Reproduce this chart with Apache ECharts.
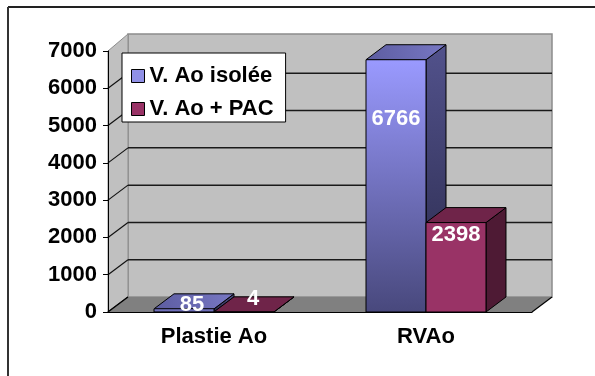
<!DOCTYPE html>
<html>
<head>
<meta charset="utf-8">
<script src="https://cdn.jsdelivr.net/npm/echarts@6/dist/echarts.min.js"></script>
<style>
  html, body { margin: 0; padding: 0; background: #fff; }
  #chart { width: 595px; height: 376px; }
</style>
</head>
<body>
<div id="chart"></div>
<script>
// Chart data
const categories = ['Plastie Ao', 'RVAo'];
const seriesNames = ['V. Ao isolée', 'V. Ao + PAC'];
const isoleeValues = [85, 6766];
const pacValues = [4, 2398];
const yTicks = [0, 1000, 2000, 3000, 4000, 5000, 6000, 7000];
const yMin = 0, yMax = 7000, yStep = 1000;

// Pseudo-3D depth offset and bar geometry
const DX = 20, DY = -15;
const BAR_RATIO = 0.283;
const FONT = '"Liberation Sans", Arial, sans-serif';

// Label anchors relative to the top-centre of each bar's front face
const labelShift = [
  [[8, -4], [0, 59]],
  [[9, -13], [0, 12]]
];

const palettes = [
  {
    front: { type: 'linear', x: 0, y: 0, x2: 0, y2: 1, colorStops: [{ offset: 0, color: '#9a9aff' }, { offset: 1, color: '#48487c' }] },
    side: { type: 'linear', x: 0, y: 0, x2: 0, y2: 1, colorStops: [{ offset: 0, color: '#52528c' }, { offset: 1, color: '#29294a' }] },
    top: { type: 'linear', x: 0, y: 1, x2: 1, y2: 0, colorStops: [{ offset: 0, color: '#5c5ca0' }, { offset: 1, color: '#7878c4' }] },
    legend: '#9090e6'
  },
  {
    front: '#993366',
    side: '#4e1a34',
    top: '#6f2449',
    legend: '#993366'
  }
];

function renderFrame(params, api) {
  const cs = params.coordSys;
  const xL = cs.x, xR = cs.x + cs.width;
  const y0 = api.coord([0, yMin])[1];
  const yT = api.coord([0, yMax])[1];
  const kids = [];
  // back wall
  kids.push({ type: 'rect', shape: { x: xL + DX, y: yT + DY - 2, width: cs.width, height: y0 - yT + 2 },
    style: { fill: '#c0c0c0', stroke: '#8c8c8c', lineWidth: 1.5 } });
  // left side wall
  kids.push({ type: 'polygon', shape: { points: [[xL, yT], [xL + DX, yT + DY - 2], [xL + DX, y0 + DY], [xL, y0]] },
    style: { fill: '#c0c0c0', stroke: '#8c8c8c', lineWidth: 1 } });
  // gridlines on the walls
  yTicks.forEach(function (v) {
    if (v === yMax) return;
    const y = api.coord([0, v])[1];
    kids.push({ type: 'line', shape: { x1: xL, y1: y, x2: xL + DX, y2: y + DY }, style: { stroke: '#111', lineWidth: 1.2 } });
    if (v !== yMin) {
      kids.push({ type: 'line', shape: { x1: xL + DX, y1: y + DY, x2: xR + DX, y2: y + DY }, style: { stroke: '#1a1a1a', lineWidth: 1.5 } });
    }
  });
  // floor
  kids.push({ type: 'polygon', shape: { points: [[xL, y0], [xR, y0], [xR + DX, y0 + DY], [xL + DX, y0 + DY]] },
    style: { fill: '#808080' } });
  kids.push({ type: 'line', shape: { x1: xR, y1: y0, x2: xR + DX, y2: y0 + DY }, style: { stroke: '#000', lineWidth: 1.2 } });
  kids.push({ type: 'line', shape: { x1: xL, y1: y0, x2: xL + DX, y2: y0 + DY }, style: { stroke: '#000', lineWidth: 1.2 } });
  return { type: 'group', children: kids };
}

function makeBarRenderer(seriesIndex) {
  const pal = palettes[seriesIndex];
  return function (params, api) {
    const ci = api.value(0);
    const v = api.value(1);
    const base = api.coord([ci, 0]);
    const top = api.coord([ci, v]);
    const bw = api.size([1, 0])[0] * BAR_RATIO;
    const x0 = seriesIndex === 0 ? base[0] - bw : base[0];
    const x1 = x0 + bw;
    const yb = base[1], yt = top[1];
    const h = Math.max(yb - yt, 0.5);
    const edge = { stroke: '#000', lineWidth: 1 };
    const shift = labelShift[seriesIndex][params.dataIndex];
    return {
      type: 'group',
      children: [
        { type: 'polygon', shape: { points: [[x1, yb], [x1 + DX, yb + DY], [x1 + DX, yt + DY], [x1, yt]] },
          style: Object.assign({ fill: pal.side }, edge) },
        { type: 'polygon', shape: { points: [[x0, yt], [x1, yt], [x1 + DX, yt + DY], [x0 + DX, yt + DY]] },
          style: Object.assign({ fill: pal.top }, edge) },
        { type: 'rect', shape: { x: x0, y: yt, width: bw, height: h },
          style: Object.assign({ fill: pal.front }, edge) },
        { type: 'text', z2: 10,
          style: { text: String(v), x: (x0 + x1) / 2 + shift[0], y: yt + shift[1],
            align: 'center', verticalAlign: 'middle', fill: '#fff',
            font: 'bold 22px ' + FONT } }
      ]
    };
  };
}

const chart = echarts.init(document.getElementById('chart'), null, { renderer: 'canvas' });

const axisText = { color: '#000', fontWeight: 'bold', fontSize: 22, fontFamily: FONT };

chart.setOption({
  animation: false,
  backgroundColor: '#fff',
  grid: { left: 108, top: 51, right: 63, bottom: 64, containLabel: false },
  xAxis: {
    type: 'category',
    data: categories,
    z: 5,
    axisLine: { lineStyle: { color: '#000', width: 1 } },
    axisTick: { length: 4, lineStyle: { color: '#000' } },
    axisLabel: Object.assign({ margin: 14 }, axisText),
    splitLine: { show: false }
  },
  yAxis: {
    type: 'value',
    min: yMin, max: yMax, interval: yStep,
    z: 5,
    axisLine: { show: true, lineStyle: { color: '#000', width: 1 } },
    axisTick: { show: true, length: 5, lineStyle: { color: '#000' } },
    axisLabel: Object.assign({ margin: 11, formatter: function (v) { return String(v); } }, axisText),
    splitLine: { show: false }
  },
  legend: {
    orient: 'vertical',
    left: 122, top: 53,
    padding: [12, 12, 2, 9],
    itemGap: 11,
    itemWidth: 13, itemHeight: 13,
    backgroundColor: '#fff',
    borderColor: '#000', borderWidth: 1,
    icon: 'rect',
    textStyle: axisText,
    data: seriesNames.map(function (n, i) {
      return { name: n, itemStyle: { color: palettes[i].legend, borderColor: '#000', borderWidth: 1 } };
    })
  },
  graphic: [
    { type: 'line', shape: { x1: 8, y1: 7, x2: 595, y2: 7 }, style: { stroke: '#222', lineWidth: 2 } },
    { type: 'line', shape: { x1: 8, y1: 7, x2: 8, y2: 376 }, style: { stroke: '#333', lineWidth: 2 } }
  ],
  series: [
    { type: 'custom', name: 'frame', z: 1, silent: true, renderItem: renderFrame, data: [[0, 0]] },
    { type: 'custom', name: seriesNames[0], z: 2, renderItem: makeBarRenderer(0),
      itemStyle: { color: palettes[0].legend },
      data: isoleeValues.map(function (v, i) { return [i, v]; }) },
    { type: 'custom', name: seriesNames[1], z: 3, renderItem: makeBarRenderer(1),
      itemStyle: { color: palettes[1].legend },
      data: pacValues.map(function (v, i) { return [i, v]; }) }
  ]
});
</script>
</body>
</html>
